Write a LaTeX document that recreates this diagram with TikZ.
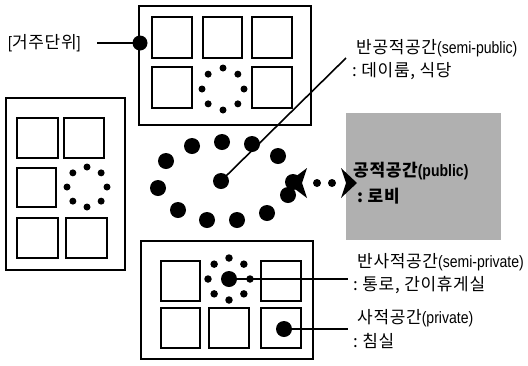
\documentclass[tikz,border=0pt]{standalone}
\usepackage{fontspec}
\usetikzlibrary{calc}
\setmainfont{Liberation Sans}
\newfontfamily\krfont[LetterSpace=4]{Noto Sans CJK KR}
\newfontfamily\ltfont[FakeStretch=0.85]{Liberation Sans}
\newcommand{\K}[1]{{\krfont\fontsize{17}{19}\selectfont #1}}
\newcommand{\Lt}[1]{{\ltfont\fontsize{16.5}{19}\selectfont #1}}
\begin{document}
\begin{tikzpicture}[x=1pt,y=-1pt,
  frame/.style={draw, line width=1.4pt},
  room/.style={draw, line width=1.3pt},
  sdot/.style={circle, fill, inner sep=0pt, minimum size=7.5pt},
  bdot/.style={circle, fill, inner sep=0pt, minimum size=16pt},
  lbl/.style={anchor=west, inner sep=0pt},
  conn/.style={line width=1.6pt},
  tip/.style={fill=black}]
\useasboundingbox (0,0) rectangle (528,365);
% gray public area
\fill[gray!62] (346,113) rectangle (501,240);
% top unit
\draw[frame] (139,6) rectangle (311,125);
\draw[room] (152,17) rectangle (192,58);
\draw[room] (203,17) rectangle (242,58);
\draw[room] (252,17) rectangle (292,58);
\draw[room] (152,67) rectangle (192,108);
\draw[room] (252,67) rectangle (292,108);
\foreach \a in {0,45,...,315} \node[sdot, minimum size=7pt] at ($(223,89)+(\a:21)$) {};
% left unit
\draw[frame] (6,98) rectangle (125,270);
\draw[room] (17,118) rectangle (58,158);
\draw[room] (64,118) rectangle (104,158);
\draw[room] (17,168) rectangle (56,207);
\draw[room] (17,218) rectangle (58,258);
\draw[room] (66,218) rectangle (107,258);
\foreach \a in {0,45,...,315} \node[sdot, minimum size=7pt] at ($(87,187)+(\a:20)$) {};
% bottom unit
\draw[frame] (141,241) rectangle (313,359);
\draw[room] (161,261) rectangle (200,301);
\draw[room] (261,261) rectangle (301,301);
\draw[room] (161,308) rectangle (200,348);
\draw[room] (209,308) rectangle (249,348);
\draw[room] (261,308) rectangle (301,348);
\foreach \a in {0,45,...,315} \node[sdot] at ($(229,279)+(\a:21)$) {};
\node[bdot] (sp) at (229,279) {};
\node[bdot] (pv) at (284,329) {};
% semi-public ellipse
\foreach \p in {(192,146),(222,142),(252,144),(278,156),(166,161),(158,188),(178,210),(207,220),(237,220),(267,213),(288,195),(293,182)}
  \node[bdot] at \p {};
\node[bdot] (ctr) at (221,181) {};
% dotted double arrow
\fill[tip] (307,168) -- (287,183) -- (307,198) -- (302,183) -- cycle;
\fill[tip] (341,168) -- (357,183) -- (341,198) -- (346,183) -- cycle;
\node[sdot, minimum size=8pt] at (317,183) {};
\node[sdot, minimum size=8pt] at (332,183) {};
% dwelling unit marker
\node[circle, fill, inner sep=0pt, minimum size=15pt] (ud) at (140,43) {};
\node[lbl] (udl) at (8,43) {\Lt{[}\K{거주단위}\Lt{]}};
\coordinate (udl-e) at (97,43);
\draw[conn] (udl-e) -- (ud.center);
% labels
\node[lbl] (spub) at (356,48) {\K{반공적공간}\Lt{(semi-public)}};
\node[lbl] at (352,71) {\K{:\ 데이룸,\ 식당}};
\coordinate (spub-end) at (346,58);
\draw[conn] (ctr.center) -- (spub-end);
\node[lbl] (pub) at (353,171) {\textbf{\K{공적공간}\Lt{(public)}}};
\node[lbl] at (357,196) {\textbf{\K{:\ 로비}}};
\node[lbl] (spv) at (357,262) {\K{반사적공간}\Lt{(semi-private)}};
\node[lbl] at (353,285) {\K{:\ 통로,\ 간이휴게실}};
\node[lbl] (pvl) at (357,318) {\K{사적공간}\Lt{(private)}};
\node[lbl] at (353,341) {\K{:\ 침실}};
\coordinate (spv-e) at (348,279);
\coordinate (pv-e) at (348,329);
\draw[conn] (sp.center) -- (spv-e);
\draw[conn] (pv.center) -- (pv-e);
\end{tikzpicture}
\end{document}
